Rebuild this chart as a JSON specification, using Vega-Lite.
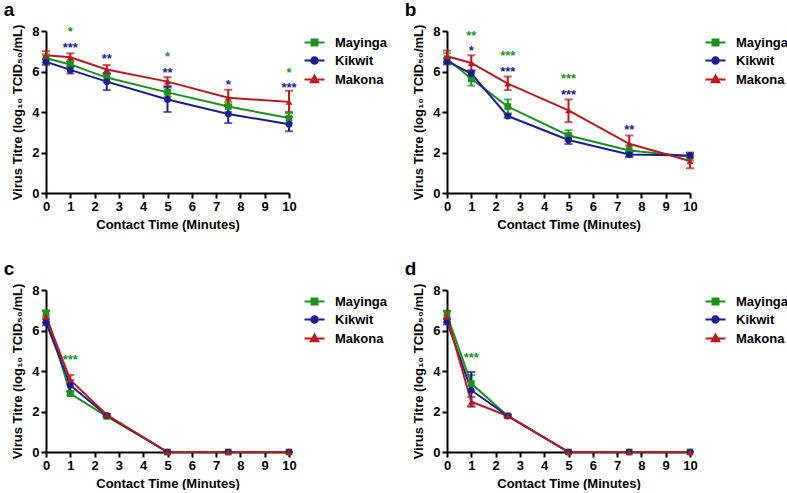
{
  "$schema": "https://vega.github.io/schema/vega-lite/v6.json",
  "padding": {"left": 3, "top": 1, "right": 0, "bottom": 0},
  "datasets": {
    "pts": [
      {"p":"a","s":"Mayinga","t":0,"v":6.65,"lo":6.45,"hi":6.85},
      {"p":"a","s":"Mayinga","t":1,"v":6.35,"lo":6.2,"hi":6.5},
      {"p":"a","s":"Mayinga","t":2.5,"v":5.7,"lo":5.5,"hi":5.9},
      {"p":"a","s":"Mayinga","t":5,"v":4.97,"lo":4.75,"hi":5.2},
      {"p":"a","s":"Mayinga","t":7.5,"v":4.27,"lo":4.0,"hi":4.5},
      {"p":"a","s":"Mayinga","t":10,"v":3.7,"lo":3.45,"hi":3.95},
      {"p":"a","s":"Kikwit","t":0,"v":6.48,"lo":6.33,"hi":6.63},
      {"p":"a","s":"Kikwit","t":1,"v":6.08,"lo":5.9,"hi":6.26},
      {"p":"a","s":"Kikwit","t":2.5,"v":5.5,"lo":5.08,"hi":5.92},
      {"p":"a","s":"Kikwit","t":5,"v":4.62,"lo":4.0,"hi":5.25},
      {"p":"a","s":"Kikwit","t":7.5,"v":3.9,"lo":3.45,"hi":4.35},
      {"p":"a","s":"Kikwit","t":10,"v":3.4,"lo":3.05,"hi":3.75},
      {"p":"a","s":"Makona","t":0,"v":6.8,"lo":6.6,"hi":7.0},
      {"p":"a","s":"Makona","t":1,"v":6.7,"lo":6.5,"hi":6.9},
      {"p":"a","s":"Makona","t":2.5,"v":6.1,"lo":5.88,"hi":6.32},
      {"p":"a","s":"Makona","t":5,"v":5.5,"lo":5.27,"hi":5.72},
      {"p":"a","s":"Makona","t":7.5,"v":4.7,"lo":4.3,"hi":5.1},
      {"p":"a","s":"Makona","t":10,"v":4.5,"lo":4.0,"hi":5.05},

      {"p":"b","s":"Mayinga","t":0,"v":6.63,"lo":6.4,"hi":6.9},
      {"p":"b","s":"Mayinga","t":1,"v":5.64,"lo":5.3,"hi":5.97},
      {"p":"b","s":"Mayinga","t":2.5,"v":4.27,"lo":3.94,"hi":4.62},
      {"p":"b","s":"Mayinga","t":5,"v":2.84,"lo":2.58,"hi":3.1},
      {"p":"b","s":"Mayinga","t":7.5,"v":2.1,"lo":1.77,"hi":2.35},
      {"p":"b","s":"Mayinga","t":10,"v":1.8,"lo":1.6,"hi":1.95},
      {"p":"b","s":"Kikwit","t":0,"v":6.5,"lo":6.35,"hi":6.65},
      {"p":"b","s":"Kikwit","t":1,"v":5.9,"lo":5.75,"hi":6.05},
      {"p":"b","s":"Kikwit","t":2.5,"v":3.8,"lo":3.72,"hi":3.88},
      {"p":"b","s":"Kikwit","t":5,"v":2.62,"lo":2.42,"hi":2.82},
      {"p":"b","s":"Kikwit","t":7.5,"v":1.9,"lo":1.8,"hi":2.0},
      {"p":"b","s":"Kikwit","t":10,"v":1.85,"lo":1.75,"hi":1.95},
      {"p":"b","s":"Makona","t":0,"v":6.75,"lo":6.47,"hi":7.03},
      {"p":"b","s":"Makona","t":1,"v":6.42,"lo":6.05,"hi":6.8},
      {"p":"b","s":"Makona","t":2.5,"v":5.4,"lo":5.08,"hi":5.75},
      {"p":"b","s":"Makona","t":5,"v":4.08,"lo":3.5,"hi":4.62},
      {"p":"b","s":"Makona","t":7.5,"v":2.43,"lo":2.02,"hi":2.84},
      {"p":"b","s":"Makona","t":10,"v":1.58,"lo":1.22,"hi":2.0},

      {"p":"c","s":"Mayinga","t":0,"v":6.85,"lo":6.65,"hi":7.0},
      {"p":"c","s":"Mayinga","t":1,"v":2.88,"lo":2.8,"hi":2.96},
      {"p":"c","s":"Mayinga","t":2.5,"v":1.76,"lo":1.7,"hi":1.82},
      {"p":"c","s":"Mayinga","t":5,"v":0,"lo":0,"hi":0},
      {"p":"c","s":"Mayinga","t":7.5,"v":0,"lo":0,"hi":0},
      {"p":"c","s":"Mayinga","t":10,"v":0,"lo":0,"hi":0},
      {"p":"c","s":"Kikwit","t":0,"v":6.4,"lo":6.25,"hi":6.55},
      {"p":"c","s":"Kikwit","t":1,"v":3.3,"lo":3.0,"hi":3.55},
      {"p":"c","s":"Kikwit","t":2.5,"v":1.8,"lo":1.74,"hi":1.86},
      {"p":"c","s":"Kikwit","t":5,"v":0,"lo":0,"hi":0},
      {"p":"c","s":"Kikwit","t":7.5,"v":0,"lo":0,"hi":0},
      {"p":"c","s":"Kikwit","t":10,"v":0,"lo":0,"hi":0},
      {"p":"c","s":"Makona","t":0,"v":6.68,"lo":6.4,"hi":6.96},
      {"p":"c","s":"Makona","t":1,"v":3.56,"lo":3.35,"hi":3.8},
      {"p":"c","s":"Makona","t":2.5,"v":1.84,"lo":1.78,"hi":1.9},
      {"p":"c","s":"Makona","t":5,"v":0,"lo":0,"hi":0},
      {"p":"c","s":"Makona","t":7.5,"v":0,"lo":0,"hi":0},
      {"p":"c","s":"Makona","t":10,"v":0,"lo":0,"hi":0},

      {"p":"d","s":"Mayinga","t":0,"v":6.77,"lo":6.55,"hi":6.98},
      {"p":"d","s":"Mayinga","t":1,"v":3.38,"lo":2.97,"hi":3.8},
      {"p":"d","s":"Mayinga","t":2.5,"v":1.78,"lo":1.72,"hi":1.84},
      {"p":"d","s":"Mayinga","t":5,"v":0,"lo":0,"hi":0},
      {"p":"d","s":"Mayinga","t":7.5,"v":0,"lo":0,"hi":0},
      {"p":"d","s":"Mayinga","t":10,"v":0,"lo":0,"hi":0},
      {"p":"d","s":"Kikwit","t":0,"v":6.44,"lo":6.3,"hi":6.6},
      {"p":"d","s":"Kikwit","t":1,"v":3.05,"lo":2.25,"hi":3.95},
      {"p":"d","s":"Kikwit","t":2.5,"v":1.78,"lo":1.72,"hi":1.84},
      {"p":"d","s":"Kikwit","t":5,"v":0,"lo":0,"hi":0},
      {"p":"d","s":"Kikwit","t":7.5,"v":0,"lo":0,"hi":0},
      {"p":"d","s":"Kikwit","t":10,"v":0,"lo":0,"hi":0},
      {"p":"d","s":"Makona","t":0,"v":6.68,"lo":6.42,"hi":6.96},
      {"p":"d","s":"Makona","t":1,"v":2.48,"lo":2.25,"hi":2.72},
      {"p":"d","s":"Makona","t":2.5,"v":1.78,"lo":1.72,"hi":1.84},
      {"p":"d","s":"Makona","t":5,"v":0,"lo":0,"hi":0},
      {"p":"d","s":"Makona","t":7.5,"v":0,"lo":0,"hi":0},
      {"p":"d","s":"Makona","t":10,"v":0,"lo":0,"hi":0}
    ],
    "stars": [
      {"p":"a","s":"Mayinga","t":1,"y":8.13,"lab":"*"},
      {"p":"a","s":"Kikwit","t":1,"y":7.34,"lab":"***"},
      {"p":"a","s":"Kikwit","t":2.5,"y":6.78,"lab":"**"},
      {"p":"a","s":"Mayinga","t":5,"y":6.9,"lab":"*"},
      {"p":"a","s":"Kikwit","t":5,"y":6.1,"lab":"**"},
      {"p":"a","s":"Kikwit","t":7.5,"y":5.53,"lab":"*"},
      {"p":"a","s":"Mayinga","t":10,"y":6.12,"lab":"*"},
      {"p":"a","s":"Kikwit","t":10,"y":5.37,"lab":"***"},
      {"p":"b","s":"Mayinga","t":1,"y":7.92,"lab":"**"},
      {"p":"b","s":"Kikwit","t":1,"y":7.2,"lab":"*"},
      {"p":"b","s":"Mayinga","t":2.5,"y":6.93,"lab":"***"},
      {"p":"b","s":"Kikwit","t":2.5,"y":6.14,"lab":"***"},
      {"p":"b","s":"Mayinga","t":5,"y":5.81,"lab":"***"},
      {"p":"b","s":"Kikwit","t":5,"y":5.03,"lab":"***"},
      {"p":"b","s":"Kikwit","t":7.5,"y":3.28,"lab":"**"},
      {"p":"c","s":"Mayinga","t":1,"y":4.71,"lab":"***"},
      {"p":"d","s":"Mayinga","t":1,"y":4.82,"lab":"***"}
    ]
  },
  "columns": 2,
  "spacing": {"row": 29, "column": 11},
  "resolve": {"legend": {"color": "independent"}},
  "concat": [
    {
      "title": {"text": "a"},
      "width": 243, "height": 162,
      "encoding": {
        "x": {"field": "t", "type": "quantitative", "scale": {"domain": [0, 10], "nice": false}, "axis": {"title": "Contact Time (Minutes)", "values": [0,1,2,3,4,5,6,7,8,9,10], "format": "d"}},
        "y": {"field": "v", "type": "quantitative", "scale": {"domain": [0, 8], "nice": false}, "axis": {"title": "Virus Titre (log₁₀ TCID₅₀/mL)", "values": [0,2,4,6,8]}},
        "color": {"field": "s", "type": "nominal", "scale": {"domain": ["Mayinga","Kikwit","Makona"], "range": ["#1a931a","#1b1b94","#c0171d"]},
          "legend": {"title": null, "encode": {"symbols": {"update": {
            "shape": {"signal": "datum.value === 'Mayinga' ? 'M-2,0H2M-0.6,-0.6H0.6V0.6H-0.6Z' : datum.value === 'Kikwit' ? 'M-2,0H2M0.65,0A0.65,0.65,0,1,1,-0.65,0A0.65,0.65,0,1,1,0.65,0Z' : 'M-2,0H2M0,-0.8L0.75,0.55H-0.75Z'"},
            "fill": {"signal": "datum.value === 'Mayinga' ? '#1a931a' : datum.value === 'Kikwit' ? '#1b1b94' : '#c0171d'"},
            "stroke": {"signal": "datum.value === 'Mayinga' ? '#1a931a' : datum.value === 'Kikwit' ? '#1b1b94' : '#c0171d'"},
            "opacity": {"value": 1}, "fillOpacity": {"value": 1}, "strokeWidth": {"value": 2}}}}}}
      },
      "layer": [
        {"data": {"name": "pts"}, "transform": [{"filter": "datum.p === 'a'"}], "mark": {"type": "line", "strokeWidth": 2}},
        {"data": {"name": "pts"}, "transform": [{"filter": "datum.p === 'a'"}], "mark": {"type": "errorbar", "ticks": {"size": 8, "thickness": 2}, "thickness": 2},
          "encoding": {"y": {"field": "lo", "type": "quantitative", "axis": {"title": "Virus Titre (log₁₀ TCID₅₀/mL)", "values": [0,2,4,6,8]}}, "y2": {"field": "hi"}}},
        {"data": {"name": "pts"}, "transform": [{"filter": "datum.p === 'a'"}], "mark": {"type": "point", "filled": true, "size": 45, "opacity": 1},
          "encoding": {"shape": {"field": "s", "type": "nominal", "scale": {"domain": ["Mayinga","Kikwit","Makona"], "range": ["square","circle","triangle-up"]}, "legend": null}}},
        {"data": {"name": "stars"}, "transform": [{"filter": "datum.p === 'a'"}], "mark": {"type": "text", "fontSize": 13, "fontWeight": "bold", "baseline": "alphabetic", "dy": 7.5},
          "encoding": {"y": {"field": "y", "type": "quantitative"}, "text": {"field": "lab"}}}
      ]
    },
    {
      "title": {"text": "b"},
      "width": 243, "height": 162,
      "encoding": {
        "x": {"field": "t", "type": "quantitative", "scale": {"domain": [0, 10], "nice": false}, "axis": {"title": "Contact Time (Minutes)", "values": [0,1,2,3,4,5,6,7,8,9,10], "format": "d"}},
        "y": {"field": "v", "type": "quantitative", "scale": {"domain": [0, 8], "nice": false}, "axis": {"title": "Virus Titre (log₁₀ TCID₅₀/mL)", "values": [0,2,4,6,8]}},
        "color": {"field": "s", "type": "nominal", "scale": {"domain": ["Mayinga","Kikwit","Makona"], "range": ["#1a931a","#1b1b94","#c0171d"]},
          "legend": {"title": null, "encode": {"symbols": {"update": {
            "shape": {"signal": "datum.value === 'Mayinga' ? 'M-2,0H2M-0.6,-0.6H0.6V0.6H-0.6Z' : datum.value === 'Kikwit' ? 'M-2,0H2M0.65,0A0.65,0.65,0,1,1,-0.65,0A0.65,0.65,0,1,1,0.65,0Z' : 'M-2,0H2M0,-0.8L0.75,0.55H-0.75Z'"},
            "fill": {"signal": "datum.value === 'Mayinga' ? '#1a931a' : datum.value === 'Kikwit' ? '#1b1b94' : '#c0171d'"},
            "stroke": {"signal": "datum.value === 'Mayinga' ? '#1a931a' : datum.value === 'Kikwit' ? '#1b1b94' : '#c0171d'"},
            "opacity": {"value": 1}, "fillOpacity": {"value": 1}, "strokeWidth": {"value": 2}}}}}}
      },
      "layer": [
        {"data": {"name": "pts"}, "transform": [{"filter": "datum.p === 'b'"}], "mark": {"type": "line", "strokeWidth": 2}},
        {"data": {"name": "pts"}, "transform": [{"filter": "datum.p === 'b'"}], "mark": {"type": "errorbar", "ticks": {"size": 8, "thickness": 2}, "thickness": 2},
          "encoding": {"y": {"field": "lo", "type": "quantitative", "axis": {"title": "Virus Titre (log₁₀ TCID₅₀/mL)", "values": [0,2,4,6,8]}}, "y2": {"field": "hi"}}},
        {"data": {"name": "pts"}, "transform": [{"filter": "datum.p === 'b'"}], "mark": {"type": "point", "filled": true, "size": 45, "opacity": 1},
          "encoding": {"shape": {"field": "s", "type": "nominal", "scale": {"domain": ["Mayinga","Kikwit","Makona"], "range": ["square","circle","triangle-up"]}, "legend": null}}},
        {"data": {"name": "stars"}, "transform": [{"filter": "datum.p === 'b'"}], "mark": {"type": "text", "fontSize": 13, "fontWeight": "bold", "baseline": "alphabetic", "dy": 7.5},
          "encoding": {"y": {"field": "y", "type": "quantitative"}, "text": {"field": "lab"}}}
      ]
    },
    {
      "title": {"text": "c"},
      "width": 243, "height": 162,
      "encoding": {
        "x": {"field": "t", "type": "quantitative", "scale": {"domain": [0, 10], "nice": false}, "axis": {"title": "Contact Time (Minutes)", "values": [0,1,2,3,4,5,6,7,8,9,10], "format": "d"}},
        "y": {"field": "v", "type": "quantitative", "scale": {"domain": [0, 8], "nice": false}, "axis": {"title": "Virus Titre (log₁₀ TCID₅₀/mL)", "values": [0,2,4,6,8]}},
        "color": {"field": "s", "type": "nominal", "scale": {"domain": ["Mayinga","Kikwit","Makona"], "range": ["#1a931a","#1b1b94","#c0171d"]},
          "legend": {"title": null, "encode": {"symbols": {"update": {
            "shape": {"signal": "datum.value === 'Mayinga' ? 'M-2,0H2M-0.6,-0.6H0.6V0.6H-0.6Z' : datum.value === 'Kikwit' ? 'M-2,0H2M0.65,0A0.65,0.65,0,1,1,-0.65,0A0.65,0.65,0,1,1,0.65,0Z' : 'M-2,0H2M0,-0.8L0.75,0.55H-0.75Z'"},
            "fill": {"signal": "datum.value === 'Mayinga' ? '#1a931a' : datum.value === 'Kikwit' ? '#1b1b94' : '#c0171d'"},
            "stroke": {"signal": "datum.value === 'Mayinga' ? '#1a931a' : datum.value === 'Kikwit' ? '#1b1b94' : '#c0171d'"},
            "opacity": {"value": 1}, "fillOpacity": {"value": 1}, "strokeWidth": {"value": 2}}}}}}
      },
      "layer": [
        {"data": {"name": "pts"}, "transform": [{"filter": "datum.p === 'c'"}], "mark": {"type": "line", "strokeWidth": 2}},
        {"data": {"name": "pts"}, "transform": [{"filter": "datum.p === 'c'"}], "mark": {"type": "errorbar", "ticks": {"size": 8, "thickness": 2}, "thickness": 2},
          "encoding": {"y": {"field": "lo", "type": "quantitative", "axis": {"title": "Virus Titre (log₁₀ TCID₅₀/mL)", "values": [0,2,4,6,8]}}, "y2": {"field": "hi"}}},
        {"data": {"name": "pts"}, "transform": [{"filter": "datum.p === 'c'"}], "mark": {"type": "point", "filled": true, "size": 45, "opacity": 1},
          "encoding": {"shape": {"field": "s", "type": "nominal", "scale": {"domain": ["Mayinga","Kikwit","Makona"], "range": ["square","circle","triangle-up"]}, "legend": null}}},
        {"data": {"name": "stars"}, "transform": [{"filter": "datum.p === 'c'"}], "mark": {"type": "text", "fontSize": 13, "fontWeight": "bold", "baseline": "alphabetic", "dy": 7.5},
          "encoding": {"y": {"field": "y", "type": "quantitative"}, "text": {"field": "lab"}}}
      ]
    },
    {
      "title": {"text": "d"},
      "width": 243, "height": 162,
      "encoding": {
        "x": {"field": "t", "type": "quantitative", "scale": {"domain": [0, 10], "nice": false}, "axis": {"title": "Contact Time (Minutes)", "values": [0,1,2,3,4,5,6,7,8,9,10], "format": "d"}},
        "y": {"field": "v", "type": "quantitative", "scale": {"domain": [0, 8], "nice": false}, "axis": {"title": "Virus Titre (log₁₀ TCID₅₀/mL)", "values": [0,2,4,6,8]}},
        "color": {"field": "s", "type": "nominal", "scale": {"domain": ["Mayinga","Kikwit","Makona"], "range": ["#1a931a","#1b1b94","#c0171d"]},
          "legend": {"title": null, "encode": {"symbols": {"update": {
            "shape": {"signal": "datum.value === 'Mayinga' ? 'M-2,0H2M-0.6,-0.6H0.6V0.6H-0.6Z' : datum.value === 'Kikwit' ? 'M-2,0H2M0.65,0A0.65,0.65,0,1,1,-0.65,0A0.65,0.65,0,1,1,0.65,0Z' : 'M-2,0H2M0,-0.8L0.75,0.55H-0.75Z'"},
            "fill": {"signal": "datum.value === 'Mayinga' ? '#1a931a' : datum.value === 'Kikwit' ? '#1b1b94' : '#c0171d'"},
            "stroke": {"signal": "datum.value === 'Mayinga' ? '#1a931a' : datum.value === 'Kikwit' ? '#1b1b94' : '#c0171d'"},
            "opacity": {"value": 1}, "fillOpacity": {"value": 1}, "strokeWidth": {"value": 2}}}}}}
      },
      "layer": [
        {"data": {"name": "pts"}, "transform": [{"filter": "datum.p === 'd'"}], "mark": {"type": "line", "strokeWidth": 2}},
        {"data": {"name": "pts"}, "transform": [{"filter": "datum.p === 'd'"}], "mark": {"type": "errorbar", "ticks": {"size": 8, "thickness": 2}, "thickness": 2},
          "encoding": {"y": {"field": "lo", "type": "quantitative", "axis": {"title": "Virus Titre (log₁₀ TCID₅₀/mL)", "values": [0,2,4,6,8]}}, "y2": {"field": "hi"}}},
        {"data": {"name": "pts"}, "transform": [{"filter": "datum.p === 'd'"}], "mark": {"type": "point", "filled": true, "size": 45, "opacity": 1},
          "encoding": {"shape": {"field": "s", "type": "nominal", "scale": {"domain": ["Mayinga","Kikwit","Makona"], "range": ["square","circle","triangle-up"]}, "legend": null}}},
        {"data": {"name": "stars"}, "transform": [{"filter": "datum.p === 'd'"}], "mark": {"type": "text", "fontSize": 13, "fontWeight": "bold", "baseline": "alphabetic", "dy": 7.5},
          "encoding": {"y": {"field": "y", "type": "quantitative"}, "text": {"field": "lab"}}}
      ]
    }
  ],
  "config": {
    "font": "Liberation Sans",
    "view": {"stroke": null},
    "axis": {"grid": false, "domainColor": "#000", "domainWidth": 2, "tickColor": "#000", "tickWidth": 2, "tickSize": 5,
      "labelFont": "Liberation Sans", "labelFontSize": 13, "labelFontWeight": "bold", "labelColor": "#000", "labelFlush": false, "labelPadding": 2,
      "titleFont": "Liberation Sans", "titleFontSize": 13, "titleFontWeight": "bold", "titleColor": "#000"},
    "axisY": {"titlePadding": 7},
    "axisX": {"titlePadding": 5},
    "legend": {"orient": "right", "offset": 10, "padding": 5, "symbolSize": 100, "symbolStrokeWidth": 2, "labelFont": "Liberation Sans", "labelFontSize": 13, "labelFontWeight": "bold", "labelColor": "#000", "labelOffset": 14, "rowPadding": 3},
    "title": {"font": "Liberation Sans", "fontSize": 19, "fontWeight": "bold", "color": "#000", "anchor": "start", "frame": "bounds", "offset": 0, "dx": -8}
  }
}
